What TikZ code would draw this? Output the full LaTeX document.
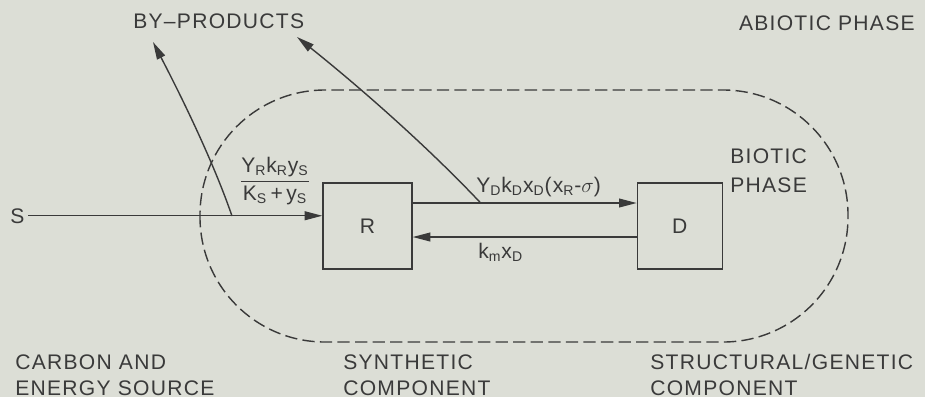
\documentclass[tikz,border=0pt]{standalone}
\usepackage{amsmath}
\usepackage{fontspec}
\setmainfont{Liberation Sans}[LetterSpace=6]
\usepackage{tikz}
\usetikzlibrary{arrows.meta,positioning,calc}
\definecolor{paper}{HTML}{DCDED6}
\definecolor{ink}{HTML}{3A3A3A}
\newcommand{\sub}[1]{\textsubscript{#1}}

\begin{document}
\begin{tikzpicture}[x=0.02cm, y=-0.02cm,
  every node/.style={text=ink},
  compbox/.style={draw=ink, line width=0.8pt, minimum width=1.78cm, minimum height=1.72cm, inner sep=0pt, font=\fontsize{12}{14}\selectfont},
  lbl/.style={inner sep=0pt, align=left, font=\fontsize{12}{14.5}\selectfont},
  flow/.style={inner sep=0pt, font=\fontsize{12}{14}\selectfont},
  arr/.style={-{Triangle[length=10pt,width=5pt]}, draw=ink, line width=0.8pt},
  boundary/.style={draw=ink, line width=0.8pt, dash pattern=on 7pt off 3pt, rounded corners=2.5cm}
]
  \fill[paper] (0,0) rectangle (925,397);
  \useasboundingbox (0,0) rectangle (925,397);

  % biotic phase boundary
  \draw[boundary] (200,90) rectangle (848,342);

  % components
  \node[compbox] (R) at (367.5,226) {R};
  \node[compbox, minimum width=1.7cm, right=4.48cm of R] (D) {D};
  \node[lbl, anchor=base west] (S) at (10,223) {S};

  % flows
  \coordinate (rd) at ($(R.east)+(0,-23)$);
  \coordinate (dr) at ($(D.west)+(0,11)$);
  \draw[arr, shorten <=2pt] (S.east) -- (S.east -| R.west);
  \draw[arr] (rd) -- (rd -| D.west);
  \draw[arr] (dr) -- (dr -| R.east);

  \node[flow] (uptake) at (275,181) {$\dfrac{\text{Y\sub{R}k\sub{R}y\sub{S}}}{\text{K\sub{S}\,+\,y\sub{S}}}$};
  \node[flow, anchor=base west] (transfer) at (476,192) {Y\sub{D}k\sub{D}x\sub{D}(x\sub{R}-$\sigma$)};
  \node[flow, anchor=base west] (maint) at (478,258) {k\sub{m}x\sub{D}};

  % by-products
  \node[lbl, anchor=base west] (byprod) at (133,28) {BY–PRODUCTS};
  \coordinate (src1) at (232,216);
  \coordinate (src2) at ($(rd)+(68,0)$);
  \coordinate (bp1) at (153,42);
  \coordinate (bp2) at (297,37);
  \draw[arr] (src1) .. controls (212,158) and (178,90) .. (bp1);
  \draw[arr] (src2) .. controls (425,144) and (357,85) .. (bp2);

  % phase and component labels
  \node[lbl, anchor=base east] (abiotic) at (915,30) {ABIOTIC PHASE};
  \node[lbl, anchor=base west, font=\fontsize{12}{16}\selectfont] (biotic) at (730,192) {BIOTIC\\PHASE};
  \node[lbl, anchor=base west] (carbon) at (15,395) {CARBON AND\\ENERGY SOURCE};
  \node[lbl, anchor=base west] (synth) at (343,395) {SYNTHETIC\\COMPONENT};
  \node[lbl, anchor=base west] (struct) at (650,395) {STRUCTURAL/GENETIC\\COMPONENT};
\end{tikzpicture}
\end{document}
